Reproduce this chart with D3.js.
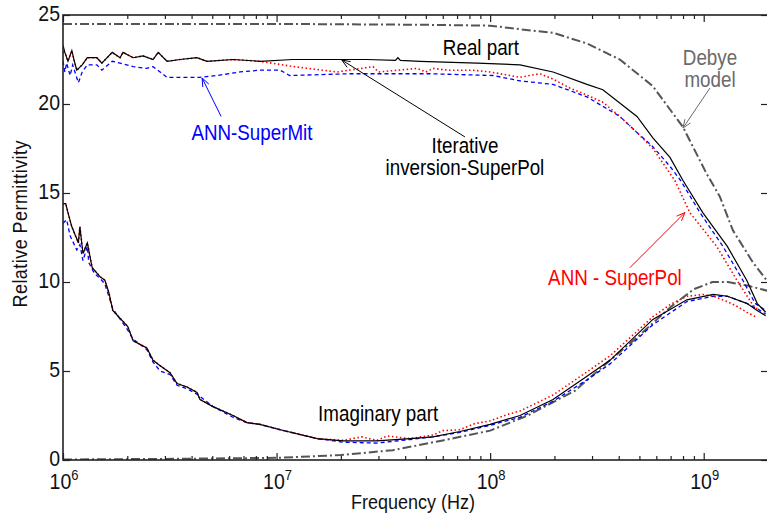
<!DOCTYPE html>
<html>
<head>
<meta charset="utf-8">
<script src="https://cdn.jsdelivr.net/npm/d3@7"></script>
<style>
body { margin: 0; background: #fff; }
svg text { font-family: "Liberation Sans", Arial, sans-serif; }
</style>
</head>
<body>
<svg width="767" height="516"></svg>
<script>
// [frequency in Hz, relative permittivity]
const iterativeReal = [[1.00e6,23.3],[1.02e6,22.9],[1.055e6,22.4],[1.10e6,23.0],[1.13e6,22.4],[1.16e6,21.9],[1.23e6,22.2],[1.30e6,22.6],[1.44e6,22.6],[1.52e6,22.3],[1.70e6,22.9],[1.85e6,22.6],[1.91e6,22.9],[2.13e6,22.6],[2.37e6,22.7],[2.64e6,22.5],[2.79e6,22.9],[3.07e6,22.4],[3.53e6,22.5],[4.24e6,22.6],[4.72e6,22.4],[6.25e6,22.5],[8.36e6,22.4],[1.19e7,22.5],[1.98e7,22.5],[2.65e7,22.5],[3.6e7,22.45],[3.7e7,22.6],[3.8e7,22.45],[4.69e7,22.4],[8.68e7,22.3],[1.38e8,22.2],[1.97e8,21.8],[2.84e8,21.1],[3.37e8,20.8],[4.87e8,19.3],[5.78e8,18.1],[6.95e8,17.0],[8.0e8,15.7],[9.9e8,13.9],[1.29e9,12.0],[1.59e9,10.1],[1.78e9,8.8],[1.95e9,8.3]];

const superMitReal = [[1.00e6,22.4],[1.02e6,21.8],[1.04e6,22.3],[1.08e6,21.6],[1.11e6,22.2],[1.18e6,21.2],[1.23e6,21.8],[1.30e6,22.2],[1.44e6,22.2],[1.52e6,21.9],[1.70e6,22.4],[1.85e6,22.3],[2.13e6,22.1],[2.47e6,22.0],[2.64e6,22.1],[2.85e6,21.8],[3.07e6,21.5],[3.53e6,21.5],[4.38e6,21.5],[5.26e6,21.6],[6.74e6,21.8],[8.36e6,21.9],[1.04e7,21.9],[1.15e7,21.6],[2.21e7,21.7],[5.23e7,21.7],[1.03e8,21.6],[1.38e8,21.3],[1.97e8,21.1],[2.84e8,20.4],[4.05e8,19.3],[4.87e8,18.4],[5.78e8,17.6],[6.95e8,16.5],[7.8e8,15.7],[9.6e8,13.9],[1.23e9,12.0],[1.525e9,10.1],[1.74e9,8.8],[1.95e9,8.4]];

// below ~1e7 it runs under the solid iterative curve
const superPolReal = [[1.00e6,22.9],[1.02e6,22.9],[1.055e6,22.4],[1.10e6,23.0],[1.13e6,22.4],[1.16e6,21.9],[1.23e6,22.2],[1.30e6,22.6],[1.44e6,22.6],[1.52e6,22.3],[1.70e6,22.9],[1.85e6,22.6],[1.91e6,22.9],[2.13e6,22.6],[2.37e6,22.7],[2.64e6,22.5],[2.79e6,22.9],[3.07e6,22.4],[3.53e6,22.5],[4.24e6,22.6],[4.72e6,22.4],[6.25e6,22.5],[8.36e6,22.4],[1.2e7,22.1],[1.92e7,21.8],[2.83e7,22.1],[3.0e7,21.8],[4.54e7,22.0],[5.0e7,21.8],[5.4e7,22.0],[6.3e7,21.9],[8.3e7,21.9],[1.0e8,21.8],[1.24e8,21.6],[1.38e8,21.5],[1.53e8,21.6],[1.71e8,21.7],[1.97e8,21.4],[2.36e8,20.9],[2.84e8,20.5],[3.37e8,20.1],[4.05e8,19.3],[4.87e8,18.4],[5.78e8,17.5],[6.95e8,16.1],[7.33e8,15.7],[8.61e8,13.9],[1.15e9,12.0],[1.43e9,10.1],[1.70e9,8.7],[1.78e9,8.5]];

const iterativeImag = [[1.00e6,14.4],[1.03e6,14.4],[1.055e6,13.9],[1.10e6,13.1],[1.18e6,12.2],[1.20e6,13.1],[1.24e6,11.6],[1.30e6,12.2],[1.37e6,10.8],[1.49e6,10.3],[1.57e6,10.1],[1.64e6,9.4],[1.71e6,8.4],[2.01e6,7.5],[2.13e6,6.7],[2.47e6,6.3],[2.64e6,5.6],[2.85e6,5.3],[3.17e6,4.9],[3.42e6,4.3],[3.81e6,4.1],[4.24e6,3.8],[4.38e6,3.4],[5.04e6,3.0],[6.25e6,2.5],[7.27e6,2.1],[8.36e6,2.0],[1.04e7,1.7],[1.55e7,1.2],[2.05e7,1.07],[2.95e7,1.07],[4.21e7,1.2],[5.4e7,1.3],[7.22e7,1.6],[1.0e8,2.0],[1.38e8,2.5],[1.97e8,3.4],[2.84e8,4.7],[3.64e8,5.6],[5.78e8,7.9],[8.34e8,9.0],[1.11e9,9.3],[1.29e9,9.2],[1.59e9,8.8],[1.78e9,8.4],[1.95e9,8.1]];

const superMitImag = [[1.00e6,13.3],[1.04e6,13.5],[1.08e6,12.6],[1.16e6,11.8],[1.20e6,12.1],[1.24e6,11.2],[1.30e6,12.0],[1.32e6,11.1],[1.40e6,10.5],[1.49e6,10.2],[1.57e6,9.9],[1.71e6,8.5],[2.01e6,7.3],[2.13e6,6.8],[2.47e6,6.2],[2.64e6,5.5],[2.85e6,5.0],[3.17e6,4.8],[3.42e6,4.2],[3.81e6,4.0],[4.24e6,3.7],[5.04e6,3.0],[6.25e6,2.4],[7.27e6,2.1],[8.36e6,2.0],[1.04e7,1.7],[1.55e7,1.2],[2.05e7,1.0],[2.95e7,0.95],[4.21e7,1.15],[5.4e7,1.3],[7.22e7,1.55],[1.0e8,1.95],[1.38e8,2.4],[1.97e8,3.3],[2.84e8,4.5],[3.64e8,5.4],[5.78e8,7.6],[8.34e8,8.9],[1.11e9,9.2],[1.29e9,9.2],[1.59e9,8.8],[1.78e9,8.5],[1.95e9,8.2]];

const superPolImag = [[1.00e6,14.4],[1.03e6,14.4],[1.055e6,13.9],[1.10e6,13.1],[1.18e6,12.2],[1.20e6,13.1],[1.24e6,11.6],[1.30e6,12.2],[1.37e6,10.8],[1.49e6,10.3],[1.57e6,10.1],[1.64e6,9.4],[1.71e6,8.4],[2.01e6,7.5],[2.13e6,6.7],[2.47e6,6.3],[2.64e6,5.6],[2.85e6,5.3],[3.17e6,4.9],[3.42e6,4.3],[3.81e6,4.1],[4.24e6,3.8],[4.38e6,3.4],[5.04e6,3.0],[6.25e6,2.5],[7.27e6,2.1],[8.36e6,2.0],[1.04e7,1.7],[1.55e7,1.2],[2.05e7,1.1],[2.5e7,1.3],[2.95e7,1.1],[3.3e7,1.35],[4.2e7,1.2],[5.4e7,1.4],[6.0e7,1.65],[7.2e7,1.7],[8.5e7,2.05],[1.0e8,2.2],[1.2e8,2.55],[1.38e8,2.75],[1.97e8,3.65],[2.84e8,4.95],[3.64e8,5.85],[4.5e8,6.85],[5.78e8,8.05],[7.0e8,8.75],[8.34e8,9.2],[1.0e9,9.3],[1.11e9,9.2],[1.29e9,8.9],[1.45e9,8.6],[1.59e9,8.3],[1.78e9,8.0]];

const debyeReal = [[1.0e6,24.5],[1.0e7,24.5],[5.0e7,24.45],[1.0e8,24.4],[1.38e8,24.2],[1.97e8,24.0],[2.84e8,23.4],[4.05e8,22.5],[5.78e8,21.0],[8.0e8,18.7],[1.03e9,16.1],[1.19e9,14.8],[1.37e9,12.9],[1.70e9,11.1],[2.0e9,10.0]];

const debyeImag = [[1.0e6,0.03],[3.0e6,0.06],[1.0e7,0.12],[2.0e7,0.28],[3.5e7,0.55],[6.0e7,1.1],[1.0e8,1.65],[1.5e8,2.5],[2.5e8,3.9],[3.64e8,5.6],[5.0e8,7.0],[7.0e8,8.6],[9.0e8,9.6],[1.1e9,10.0],[1.3e9,10.0],[1.6e9,9.8],[2.0e9,9.5]];

const yTicks = [0, 5, 10, 15, 20, 25];
const xMajor = [1e6, 1e7, 1e8, 1e9];
const xMajorExp = ["6", "7", "8", "9"];

// annotations in data units: text baseline, then arrow from -> to
const labels = [
    {lines: ["Real part"], f: 9.06e7, v: 22.75, color: "#000"},
    {lines: ["Iterative", "inversion-SuperPol"], f: 7.62e7, v: 17.25, color: "#000"},
    {lines: ["ANN-SuperMit"], f: 7.67e6, v: 17.95, color: "#0000ff"},
    {lines: ["Debye", "model"], f: 1.07e9, v: 22.2, color: "#6a6a6a"},
    {lines: ["ANN - SuperPol"], f: 3.84e8, v: 9.83, color: "#ff0000"},
    {lines: ["Imaginary part"], f: 2.99e7, v: 2.2, color: "#000"}
];
const arrows = [
    {from: [7.62e7, 18.15], to: [2.02e7, 22.47], color: "#000"},
    {from: [5.5e6, 19.3], to: [4.48e6, 21.46], color: "#0000ff"},
    {from: [1.07e9, 20.9], to: [8.0e8, 18.65], color: "#6a6a6a"},
    {from: [4.51e8, 10.8], to: [8.17e8, 13.9], color: "#ff0000"}
];

const svg = d3.select("svg");
const plotLeft = 63, plotRight = 768, plotTop = 15, plotBottom = 460;
const STRETCH = 1.16; // the original font is taller than it is wide

const x = d3.scaleLog().domain([1e6, 2e9]).range([plotLeft, plotRight]);
const y = d3.scaleLinear().domain([0, 25]).range([plotBottom, plotTop]);

svg.append("defs").append("clipPath").attr("id", "plot")
    .append("rect")
    .attr("x", plotLeft).attr("y", plotTop)
    .attr("width", plotRight - plotLeft).attr("height", plotBottom - plotTop);

const line = d3.line()
    .x((d) => x(d[0]))
    .y((d) => y(d[1]));

const plot = svg.append("g").attr("clip-path", "url(#plot)");

const series = [
    {data: debyeReal, color: "#555", width: 2, dash: "9,3,2,3"},
    {data: debyeImag, color: "#555", width: 2, dash: "9,3,2,3"},
    {data: superMitReal, color: "#0000ff", width: 1.3, dash: "4,3"},
    {data: superMitImag, color: "#0000ff", width: 1.3, dash: "4,3"},
    {data: superPolReal, color: "#ff0000", width: 1.6, dash: "1.5,2.5"},
    {data: superPolImag, color: "#ff0000", width: 1.6, dash: "1.5,2.5"},
    {data: iterativeReal, color: "#000", width: 1.2, dash: null},
    {data: iterativeImag, color: "#000", width: 1.2, dash: null}
];

plot.selectAll("path.series")
    .data(series)
    .enter()
    .append("path")
    .attr("class", "series")
    .attr("fill", "none")
    .attr("stroke", (d) => d.color)
    .attr("stroke-width", (d) => d.width)
    .attr("stroke-dasharray", (d) => d.dash)
    .attr("d", (d) => line(d.data));

// axes
const minor = [];
for (let e = 6; e <= 9; e++) {
    for (let m = 2; m <= 9; m++) {
        if (m * Math.pow(10, e) <= 2e9) minor.push(m * Math.pow(10, e));
    }
}

function styleAxis(g) {
    g.select(".domain").remove();
    g.selectAll("line").attr("stroke", "#222").attr("stroke-width", 1.2);
}

svg.append("g").attr("transform", `translate(0,${plotBottom})`)
    .call(d3.axisBottom(x).tickValues(minor).tickSize(-4).tickFormat(""))
    .call(styleAxis);
svg.append("g").attr("transform", `translate(0,${plotBottom})`)
    .call(d3.axisBottom(x).tickValues(xMajor).tickSize(-7).tickFormat(""))
    .call(styleAxis);
svg.append("g").attr("transform", `translate(0,${plotTop})`)
    .call(d3.axisTop(x).tickValues(minor).tickSize(-4).tickFormat(""))
    .call(styleAxis);
svg.append("g").attr("transform", `translate(0,${plotTop})`)
    .call(d3.axisTop(x).tickValues(xMajor).tickSize(-7).tickFormat(""))
    .call(styleAxis);

const yAxis = svg.append("g").attr("transform", `translate(${plotLeft},0)`)
    .call(d3.axisLeft(y).tickValues(yTicks).tickSize(-7).tickPadding(3))
    .call(styleAxis);
yAxis.attr("font-family", null).attr("font-size", 19.5);
yAxis.selectAll("text")
    .attr("fill", "#111")
    .attr("dy", "0.26em")
    .attr("transform", `scale(1,${STRETCH})`);

svg.append("g").attr("transform", `translate(${plotRight},0)`)
    .call(d3.axisRight(y).tickValues(yTicks).tickSize(-7).tickFormat(""))
    .call(styleAxis);

// frame
svg.append("rect")
    .attr("x", plotLeft).attr("y", plotTop)
    .attr("width", plotRight - plotLeft).attr("height", plotBottom - plotTop)
    .attr("fill", "none")
    .attr("stroke", "#222")
    .attr("stroke-width", 1.6);

// text helper: baseline at (px, py), glyphs stretched vertically
function tallText(px, py, str, size, color, rotate) {
    const g = svg.append("g")
        .attr("transform", `translate(${px},${py})${rotate ? " rotate(-90)" : ""} scale(1,${STRETCH})`);
    return g.append("text")
        .attr("text-anchor", "middle")
        .attr("font-size", size)
        .attr("fill", color)
        .text(str);
}

// x tick labels as 10^n
xMajor.forEach((d, i) => {
    const t = tallText(x(d) + 1, 489, "10", 19.5, "#111");
    t.append("tspan")
        .attr("dy", -8)
        .attr("font-size", 13)
        .text(xMajorExp[i]);
});

// axis titles
tallText(413, 509, "Frequency (Hz)", 18, "#111");
tallText(27, 224, "Relative Permittivity", 18, "#111", true)
    .attr("textLength", 167)
    .attr("lengthAdjust", "spacing");

// annotations
labels.forEach((d) => {
    d.lines.forEach((t, i) => {
        tallText(x(d.f), y(d.v) + i * 22.5, t, 18.8, d.color);
    });
});

const head = 9, spread = 0.38;
arrows.forEach((a) => {
    const x1 = x(a.from[0]), y1 = y(a.from[1]),
        x2 = x(a.to[0]), y2 = y(a.to[1]),
        ang = Math.atan2(y2 - y1, x2 - x1);
    svg.append("line")
        .attr("x1", x1).attr("y1", y1)
        .attr("x2", x2).attr("y2", y2)
        .attr("stroke", a.color)
        .attr("stroke-width", 1);
    const p1 = [x2 - head * Math.cos(ang - spread), y2 - head * Math.sin(ang - spread)],
        p2 = [x2 - head * Math.cos(ang + spread), y2 - head * Math.sin(ang + spread)];
    svg.append("path")
        .attr("d", `M${p1[0]},${p1[1]}L${x2},${y2}L${p2[0]},${p2[1]}`)
        .attr("fill", "none")
        .attr("stroke", a.color)
        .attr("stroke-width", 1);
});
</script>
</body>
</html>
